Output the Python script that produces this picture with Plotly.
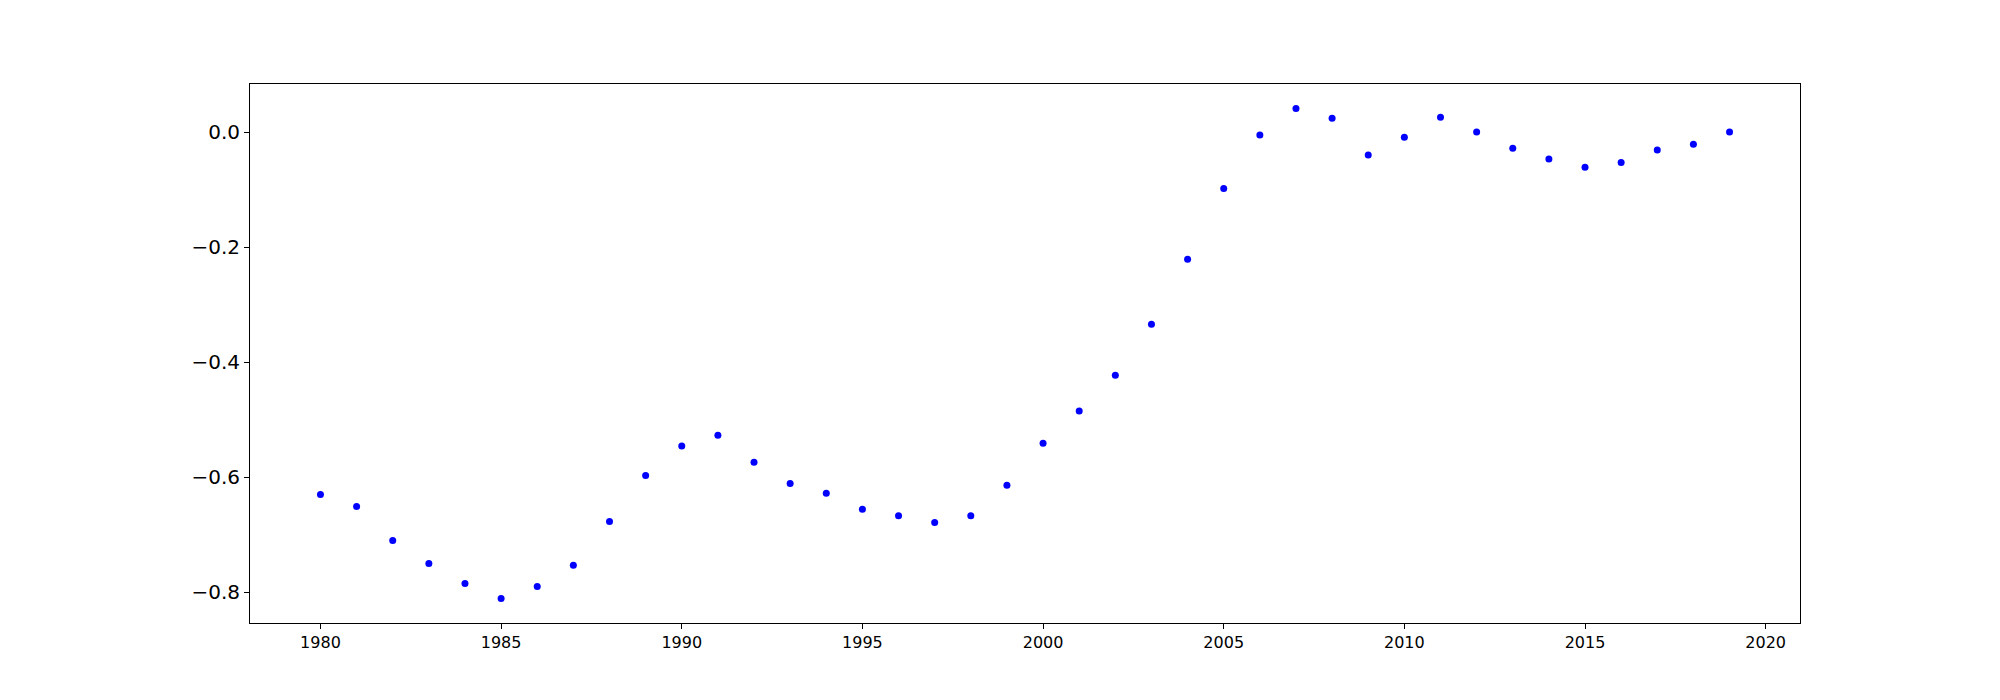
import plotly.graph_objects as go

years = list(range(1980, 2020))
values = [
    -0.630, -0.651, -0.710, -0.750, -0.785, -0.811, -0.790, -0.753, -0.677, -0.597,
    -0.546, -0.527, -0.574, -0.611, -0.628, -0.656, -0.667, -0.679, -0.667, -0.614,
    -0.541, -0.485, -0.423, -0.334, -0.221, -0.098, -0.005, 0.041, 0.024, -0.040,
    -0.009, 0.026, 0.000, -0.028, -0.047, -0.061, -0.053, -0.031, -0.021, 0.000,
]

x_ticks = [1980, 1985, 1990, 1995, 2000, 2005, 2010, 2015, 2020]
y_ticks = [-0.8, -0.6, -0.4, -0.2, 0.0]
y_labels = ["\u22120.8", "\u22120.6", "\u22120.4", "\u22120.2", "0.0"]

fig = go.Figure(go.Scatter(
    x=years, y=values, mode='markers',
    marker=dict(color='#0000ff', size=7, line=dict(width=0)),
))

# matplotlib-style 5% margins around the data
x_pad = (max(years) - min(years)) * 0.05
y_pad = (max(values) - min(values)) * 0.05

axis_style = dict(
    showline=True, linecolor='black', linewidth=1, mirror=True,
    ticks='outside', ticklen=5, tickwidth=1, tickcolor='black',
    showgrid=False, zeroline=False,
)

# the page body adds an 8px offset, so margins are shifted to compensate
fig.update_layout(
    width=2000, height=700,
    paper_bgcolor='white', plot_bgcolor='white',
    margin=dict(l=242, r=208, t=76, b=85),
    showlegend=False,
    font=dict(family='DejaVu Sans', color='black'),
    xaxis=dict(
        range=[min(years) - x_pad, max(years) + x_pad],
        tickvals=x_ticks, tickfont=dict(size=16),
        **axis_style,
    ),
    yaxis=dict(
        range=[min(values) - y_pad, max(values) + y_pad],
        tickvals=y_ticks, ticktext=y_labels, tickfont=dict(size=20),
        **axis_style,
    ),
)

fig.write_html("out.html")
